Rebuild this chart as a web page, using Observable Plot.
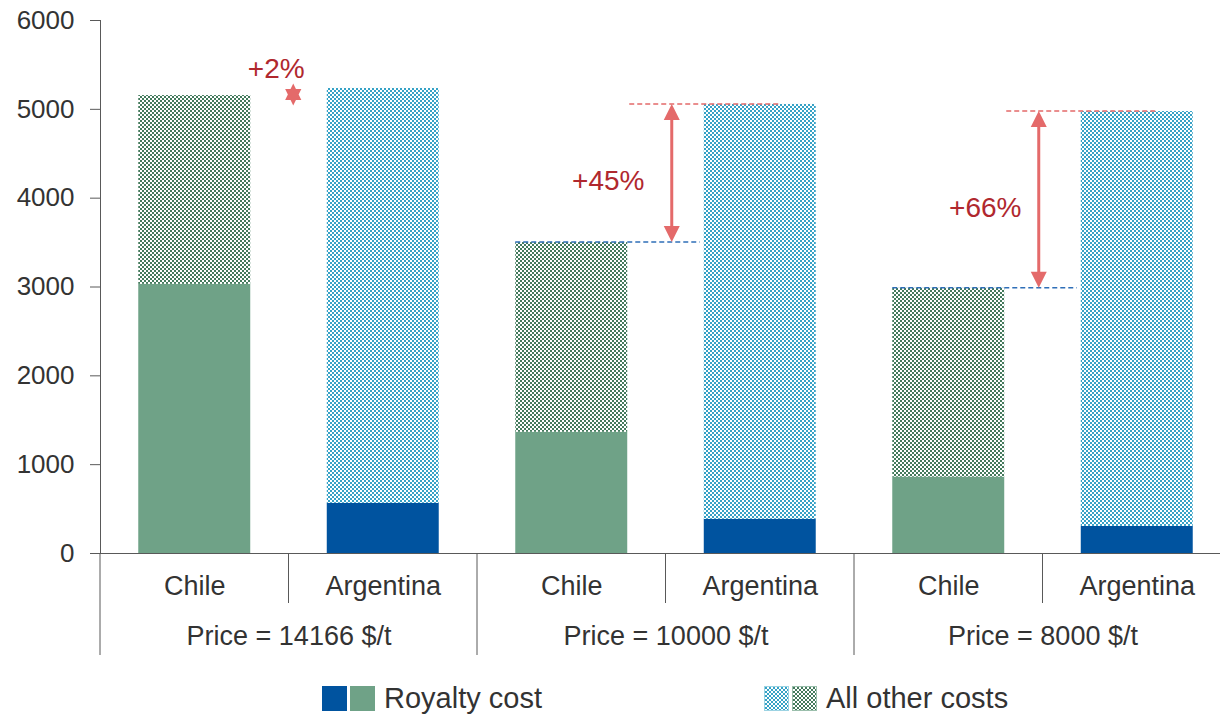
<!DOCTYPE html>
<html>
<head>
<meta charset="utf-8">
<script src="https://cdn.jsdelivr.net/npm/d3@7"></script>
<script src="https://cdn.jsdelivr.net/npm/@observablehq/plot@0.6"></script>
<style>
  body { margin: 0; background: #fff; font-family: "Liberation Sans", Arial, sans-serif; }
  #chart { width: 1220px; height: 668px; overflow: visible; }
  #legend { position: relative; width: 1220px; height: 50px; }
  .item { position: absolute; top: 18px; height: 25px; display: flex; align-items: center; font-size: 29px; color: #333; white-space: nowrap; }
  .sw { width: 25px; height: 25px; margin-right: 3px; box-sizing: border-box; }
  .sw svg { display: block; }
  .lbl { margin-left: 6px; }
</style>
</head>
<body>
<svg width="0" height="0" style="position:absolute">
  <defs>
    <pattern id="chkGreen" width="4" height="4" patternUnits="userSpaceOnUse">
      <rect width="4" height="4" fill="#ffffff"/>
      <rect width="2" height="2" fill="#437a5c"/>
      <rect x="2" y="2" width="2" height="2" fill="#437a5c"/>
    </pattern>
    <pattern id="chkCyan" width="4" height="4" patternUnits="userSpaceOnUse">
      <rect width="4" height="4" fill="#ffffff"/>
      <rect width="2" height="2" fill="#36a2c6"/>
      <rect x="2" y="2" width="2" height="2" fill="#36a2c6"/>
    </pattern>
  </defs>
</svg>
<div id="chart"></div>
<div id="legend">
  <div class="item" style="left:322px">
    <div class="sw" style="background:#00539f"></div>
    <div class="sw" style="background:#6fa287"></div>
    <span class="lbl">Royalty cost</span>
  </div>
  <div class="item" style="left:764px">
    <div class="sw" style="border:1px solid #9cd3e3"><svg width="23" height="23"><rect width="23" height="23" fill="url(#chkCyan)"/></svg></div>
    <div class="sw" style="border:1px solid #9bbfac"><svg width="23" height="23"><rect width="23" height="23" fill="url(#chkGreen)"/></svg></div>
    <span class="lbl">All other costs</span>
  </div>
</div>
<script>
// ---- data ----
const groups = ["Price = 14166 $/t", "Price = 10000 $/t", "Price = 8000 $/t"];
const countries = ["Chile", "Argentina"];
const royaltyChile = [3030, 1365, 860];
const totalChile = [5155, 3500, 2985];
const royaltyArgentina = [565, 385, 305];
const totalArgentina = [5235, 5055, 4975];
const changeLabels = ["+2%", "+45%", "+66%"];
const yTicks = [0, 1000, 2000, 3000, 4000, 5000, 6000];

// ---- layout / style ----
const W = 1220, H = 668, mL = 100, mR = -11, mT = 20, mB = 115;
const step = (W - mL - mR) / (groups.length * countries.length);
const textColor = "#333333";
const axisColor = "#595959";
const annRed = "#b0282e";
const arrowRed = "#e46a6a";
const dashBlue = "#2f6fb8";
const arrowDx = [0, -88, -98];

const key = (g, c) => g + "|" + c;
const keys = groups.flatMap(g => countries.map(c => key(g, c)));

const rows = [];
groups.forEach((g, i) => {
  rows.push({key: key(g, "Chile"), group: g, country: "Chile", royalty: royaltyChile[i], total: totalChile[i]});
  rows.push({key: key(g, "Argentina"), group: g, country: "Argentina", royalty: royaltyArgentina[i], total: totalArgentina[i]});
});
const chileRows = rows.filter(d => d.country === "Chile");
const argRows = rows.filter(d => d.country === "Argentina");

const hexagram = {
  draw(context, size) {
    const R = Math.sqrt(size / Math.PI);
    const r = R / Math.sqrt(3);
    for (let k = 0; k < 12; k++) {
      const a = -Math.PI / 2 + k * Math.PI / 6;
      const rr = k % 2 === 0 ? R : r;
      const px = rr * Math.cos(a) * 0.85, py = rr * Math.sin(a);
      if (k === 0) context.moveTo(px, py); else context.lineTo(px, py);
    }
    context.closePath();
  }
};

// annotation render (separators, dashed guides, double arrows)
function guides(index, scales) {
  const {x, y} = scales;
  const bw = x.bandwidth();
  const st = x(keys[1]) - x(keys[0]);
  const pad = (st - bw) / 2;
  const y0 = y(0);
  const g = d3.create("svg:g");
  groups.forEach((gr, i) => {
    const cx = x(key(gr, "Chile")) - pad;
    const ax = x(key(gr, "Argentina")) - pad;
    g.append("line").attr("x1", cx).attr("x2", cx).attr("y1", y0).attr("y2", y0 + 102)
      .attr("stroke", axisColor).attr("stroke-width", 1);
    g.append("line").attr("x1", ax).attr("x2", ax).attr("y1", y0).attr("y2", y0 + 50)
      .attr("stroke", axisColor).attr("stroke-width", 1);
  });
  groups.forEach((gr, i) => {
    if (i === 0) return;
    const cxs = x(key(gr, "Chile"));
    const axs = x(key(gr, "Argentina"));
    const yc = y(totalChile[i]), ya = y(totalArgentina[i]);
    g.append("line").attr("x1", cxs).attr("x2", axs - 4).attr("y1", yc).attr("y2", yc)
      .attr("stroke", dashBlue).attr("stroke-width", 1.5).attr("stroke-dasharray", "5,3");
    g.append("line").attr("x1", cxs + bw + 2).attr("x2", axs + 75).attr("y1", ya).attr("y2", ya)
      .attr("stroke", arrowRed).attr("stroke-width", 1.5).attr("stroke-dasharray", "5,3");
    const ax = axs + bw / 2 + arrowDx[i];
    const hl = 16, hw = 8;
    g.append("line").attr("x1", ax).attr("x2", ax).attr("y1", ya + hl - 2).attr("y2", yc - hl + 2)
      .attr("stroke", arrowRed).attr("stroke-width", 3);
    g.append("path").attr("d", `M${ax},${ya}L${ax - hw},${ya + hl}L${ax + hw},${ya + hl}Z`).attr("fill", arrowRed);
    g.append("path").attr("d", `M${ax},${yc}L${ax - hw},${yc - hl}L${ax + hw},${yc - hl}Z`).attr("fill", arrowRed);
  });
  return g.node();
}

const chart = Plot.plot({
  width: W,
  height: H,
  marginLeft: mL,
  marginRight: mR,
  marginTop: mT,
  marginBottom: mB,
  style: {fontFamily: "'Liberation Sans', Arial, sans-serif", color: textColor, background: "#fff", overflow: "visible"},
  x: {type: "band", domain: keys, paddingInner: 0.406, paddingOuter: 0.203, round: false, axis: null},
  y: {domain: [0, 6000], axis: null},
  marks: [
    Plot.rectY(chileRows, {x: "key", y1: 0, y2: "royalty", fill: "#6fa287"}),
    Plot.rectY(argRows, {x: "key", y1: 0, y2: "royalty", fill: "#00539f"}),
    Plot.rectY(chileRows, {x: "key", y1: "royalty", y2: "total", fill: "url(#chkGreen)"}),
    Plot.rectY(argRows, {x: "key", y1: "royalty", y2: "total", fill: "url(#chkCyan)"}),
    Plot.axisY({ticks: yTicks, tickSize: 10, tickPadding: 16, fontSize: 26, stroke: axisColor, tickFormat: d => String(d), label: null}),
    Plot.frame({anchor: "left", stroke: axisColor}),
    Plot.ruleY([0], {stroke: axisColor}),
    guides,
    Plot.text(rows, {x: "key", text: "country", frameAnchor: "bottom", dy: 41, fontSize: 27, fill: textColor}),
    Plot.text(argRows, {x: "key", text: "group", frameAnchor: "bottom", dy: 91, dx: -step / 2, fontSize: 27, fill: textColor}),
    Plot.text(groups.slice(1).map((g, j) => ({key: key(g, "Argentina"), mid: (totalChile[j + 1] + totalArgentina[j + 1]) / 2, label: changeLabels[j + 1]})),
      {x: "key", y: "mid", text: "label", dx: -152, dy: 8, fontSize: 28, fill: annRed}),
    Plot.dot([{key: key(groups[0], "Argentina"), v: totalChile[0]}], {x: "key", y: "v", dx: -90, dy: -1, r: 11, symbol: hexagram, fill: arrowRed, stroke: "none"}),
    Plot.text([{key: key(groups[0], "Argentina"), v: totalChile[0], label: changeLabels[0]}],
      {x: "key", y: "v", text: "label", dx: -107, dy: -27, fontSize: 28, fill: annRed})
  ]
});
document.getElementById("chart").appendChild(chart);
</script>
</body>
</html>
